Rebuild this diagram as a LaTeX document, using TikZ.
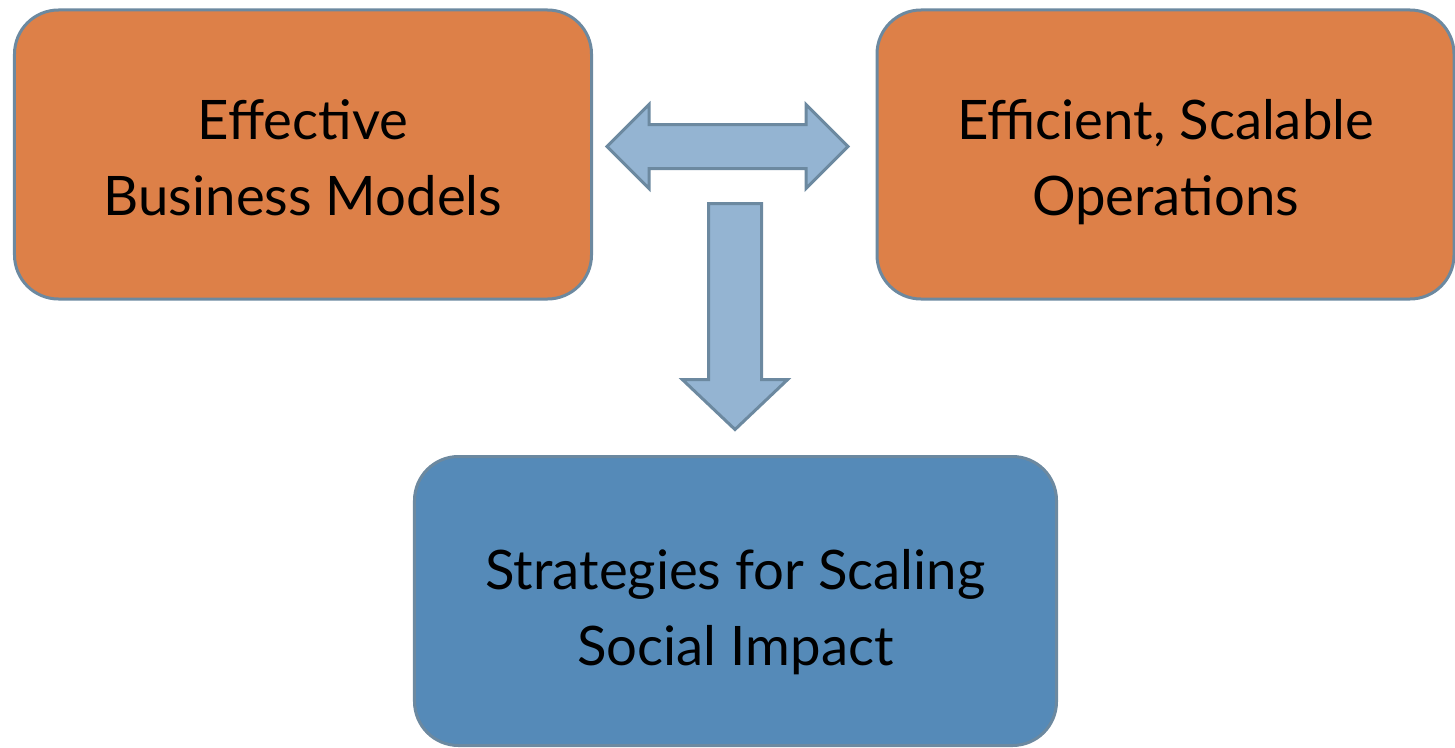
\documentclass[tikz,border=0pt]{standalone}
\usepackage{fontspec}
\setmainfont{Lato}
\usetikzlibrary{shapes.arrows}

\definecolor{boxorange}{RGB}{221,128,72}
\definecolor{boxblue}{RGB}{85,138,184}
\definecolor{arrowblue}{RGB}{148,180,210}
\definecolor{edgegray}{RGB}{108,137,160}

\tikzset{
  topic/.style={draw=edgegray, line width=0.6mm, rounded corners=8.8mm,
    minimum width=115.4mm, minimum height=57.8mm, align=center,
    text height=69pt, text depth=0pt,
    font=\fontsize{31}{43}\selectfont},
  blockarrow/.style={draw=edgegray, fill=arrowblue, line width=0.6mm, inner sep=0pt},
}

\begin{document}
\begin{tikzpicture}[x=0.2mm,y=-0.2mm]
  \useasboundingbox (0,0) rectangle (1455,747);
  % the three topics
  \node[topic, fill=boxorange] (models) at (303,154.5) {Effective\\Business Models};
  \node[topic, fill=boxorange] (ops) at (1165.5,154.5) {Efficient, Scalable\\Operations};
  \node[topic, fill=boxblue, minimum width=128.4mm, text height=73pt] (impact) at (735.5,601)
    {Strategies for Scaling\\Social Impact};
  % block arrows
  \node[blockarrow, double arrow, minimum height=48.2mm, inner ysep=4.1mm,
    double arrow head extend=4mm] (link) at (727.5,146.5) {};
  \node[blockarrow, single arrow, shape border rotate=270, minimum height=45.2mm,
    inner sep=5mm, single arrow head extend=5.2mm, single arrow tip angle=93,
    anchor=tail] (down) at (735,202) {};
\end{tikzpicture}
\end{document}
